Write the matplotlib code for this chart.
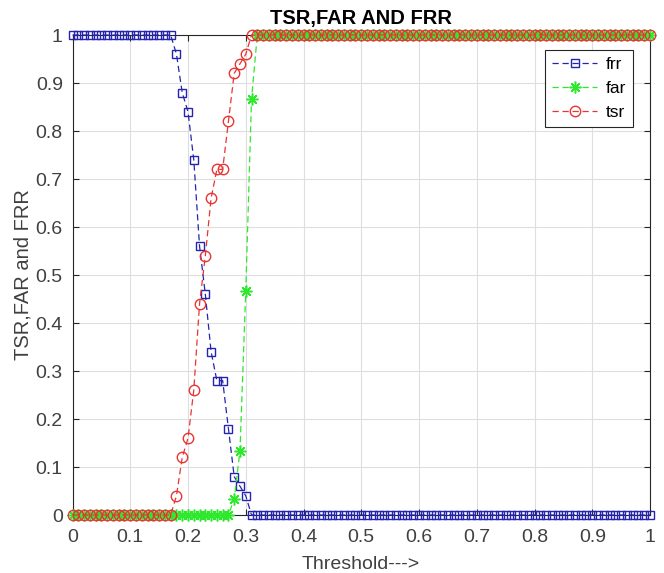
import numpy as np
import matplotlib.pyplot as plt

plt.rcParams['font.family'] = ['Liberation Sans', 'DejaVu Sans']

# threshold grid 0 .. 1 in steps of 0.01
threshold = np.linspace(0, 1, 101)

frr = [1.0] * 18 + [0.96, 0.88, 0.84, 0.74, 0.56, 0.46, 0.34, 0.28, 0.28,
                    0.18, 0.08, 0.06, 0.04] + [0.0] * 70
far = [0.0] * 28 + [0.0333, 0.1333, 0.4667, 0.8667] + [1.0] * 69
tsr = [0.0] * 18 + [0.04, 0.12, 0.16, 0.26, 0.44, 0.54, 0.66, 0.72, 0.72,
                    0.82, 0.92, 0.94, 0.96] + [1.0] * 70

ticks = np.round(np.arange(0, 1.01, 0.1), 1)
tick_labels = ['0', '0.1', '0.2', '0.3', '0.4', '0.5', '0.6', '0.7', '0.8', '0.9', '1']

fig = plt.figure(figsize=(6.64, 5.73), dpi=100)
ax = fig.add_axes([72.5 / 664, 1 - 515 / 573, 577.5 / 664, 480 / 573])

# matlab style asterisk marker
asterisk = (8, 2, 0)

ax.plot(threshold, frr, '--s', color='#2424b0', lw=0.9, ms=6.3, mfc='none',
        mew=1.0, dashes=(5, 3), clip_on=False, label='frr', zorder=3)
ax.plot(threshold, far, '--', marker=asterisk, color='#2ee82e', lw=0.9, ms=8.5,
        mew=1.1, dashes=(5, 3), clip_on=False, label='far', zorder=4)
ax.plot(threshold, tsr, '--o', color='#e83434', lw=0.9, ms=7.5, mfc='none',
        mew=1.0, dashes=(5, 3), clip_on=False, label='tsr', zorder=5)

ax.set_xlim(0, 1)
ax.set_ylim(0, 1)
ax.set_xticks(ticks)
ax.set_yticks(ticks)
ax.set_xticklabels(tick_labels)
ax.set_yticklabels(tick_labels)
ax.tick_params(direction='in', length=4, width=0.8, top=True, right=True,
               labelsize=14, colors='#262626', labelcolor='#404040')
ax.tick_params(axis='x', pad=10)
ax.tick_params(axis='y', pad=7)
for s in ax.spines.values():
    s.set_color('#262626')
    s.set_linewidth(0.8)
ax.grid(True, color='#dedede', linewidth=0.8)
ax.set_axisbelow(True)

ax.set_title('TSR,FAR AND FRR', fontsize=14.5, fontweight='bold', pad=8)
ax.set_xlabel('Threshold--->', fontsize=14, color='#404040', labelpad=7)
ax.set_ylabel('TSR,FAR and FRR', fontsize=14.5, color='#404040', labelpad=2)

leg = ax.legend(loc='upper right', bbox_to_anchor=(0.971, 0.969), borderaxespad=0,
                fontsize=12.5, handlelength=2.6, handletextpad=0.5, frameon=True,
                fancybox=False, edgecolor='#262626', framealpha=1)
leg.get_frame().set_linewidth(0.8)

fig.savefig('out.png', dpi=100)
